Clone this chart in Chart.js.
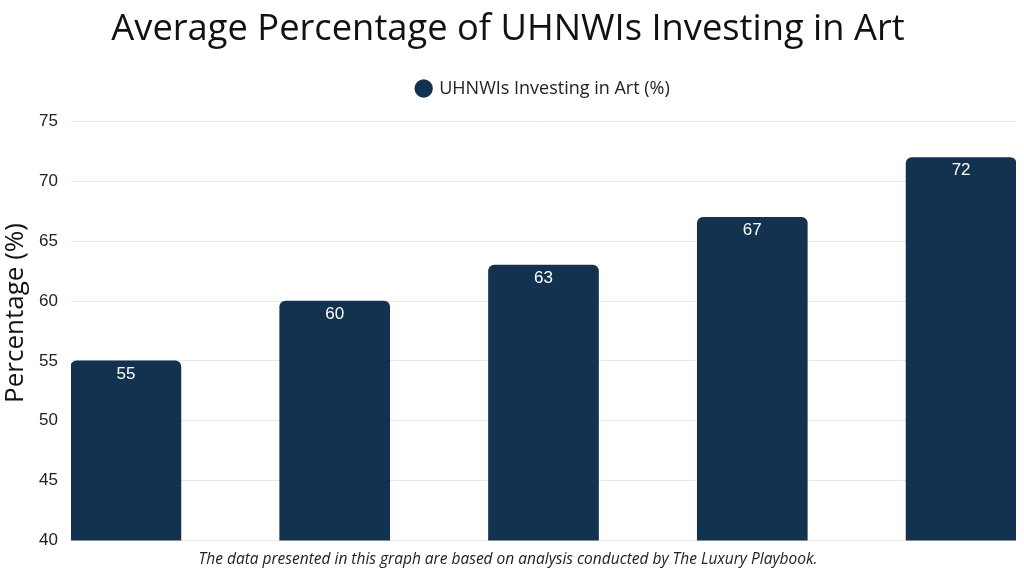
<!DOCTYPE html>
<html>
<head>
<meta charset="utf-8">
<script src="https://cdn.jsdelivr.net/npm/chart.js@4/dist/chart.umd.min.js"></script>
<style>
  html, body { margin: 0; padding: 0; background: #ffffff; }
  #wrap { width: 1024px; height: 576px; }
</style>
</head>
<body>
<div id="wrap"><canvas id="c" width="1024" height="576"></canvas></div>
<script>
const categories = ['1', '2', '3', '4', '5'];
const seriesLabel = 'UHNWIs Investing in Art (%)';
const values = [55, 60, 63, 67, 72];
const yTicks = [40, 45, 50, 55, 60, 65, 70, 75];
const titleText = 'Average Percentage of UHNWIs Investing in Art';
const captionText = 'The data presented in this graph are based on analysis conducted by The Luxury Playbook.';
const yTitle = 'Percentage (%)';

const barColor = '#12324f';

const valueLabels = {
  id: 'valueLabels',
  afterDatasetsDraw(chart) {
    const ctx = chart.ctx;
    const meta = chart.getDatasetMeta(0);
    ctx.save();
    ctx.fillStyle = '#ffffff';
    ctx.font = '17px "Liberation Sans", Arial, sans-serif';
    ctx.textAlign = 'center';
    ctx.textBaseline = 'middle';
    meta.data.forEach((el, i) => {
      ctx.fillText(String(values[i]), el.x, el.y + 13);
    });
    ctx.restore();
  }
};

const yAxisTitle = {
  id: 'yAxisTitle',
  afterDraw(chart) {
    const ctx = chart.ctx;
    const area = chart.chartArea;
    ctx.save();
    ctx.translate(16, (area.top + area.bottom) / 2 - 18);
    ctx.rotate(-Math.PI / 2);
    ctx.fillStyle = '#111111';
    ctx.font = '26px "Open Sans", sans-serif';
    ctx.textAlign = 'center';
    ctx.textBaseline = 'middle';
    ctx.fillText(yTitle, 0, 0);
    ctx.restore();
  }
};

new Chart(document.getElementById('c'), {
  type: 'bar',
  data: {
    labels: categories,
    datasets: [{
      label: seriesLabel,
      data: values.map((v, i) => ({ x: i, y: v })),
      backgroundColor: barColor,
      borderRadius: { topLeft: 6, topRight: 6, bottomLeft: 0, bottomRight: 0 },
      borderSkipped: 'bottom',
      barThickness: 110
    }]
  },
  options: {
    responsive: false,
    animation: false,
    layout: { padding: { left: 0, right: 8, top: 2, bottom: 7 } },
    plugins: {
      title: {
        display: true,
        text: titleText,
        color: '#111111',
        font: { family: '"Open Sans", sans-serif', size: 36.3, weight: '400' },
        padding: { top: 6, bottom: 8 }
      },
      subtitle: {
        display: true,
        position: 'bottom',
        text: captionText,
        color: '#222222',
        font: { family: '"Open Sans", sans-serif', size: 15.5, style: 'italic' },
        padding: { top: 2, bottom: 0 }
      },
      legend: {
        display: true,
        fullSize: false,
        labels: {
          usePointStyle: true,
          pointStyle: 'circle',
          boxWidth: 13,
          boxHeight: 13,
          color: '#222222',
          font: { family: '"Open Sans", sans-serif', size: 18 },
          padding: 20
        }
      },
      tooltip: { enabled: false }
    },
    scales: {
      x: {
        type: 'linear',
        offset: false,
        min: -0.263,
        max: 4.263,
        ticks: { display: false },
        grid: { display: false },
        border: { display: false }
      },
      xTop: {
        type: 'linear',
        position: 'top',
        min: 0,
        max: 1,
        ticks: { display: false },
        grid: { display: false },
        border: { display: false },
        afterFit(scale) { scale.height = 14; }
      },
      y: {
        min: 40,
        max: 75,
        afterBuildTicks(axis) { axis.ticks = yTicks.map(v => ({ value: v })); },
        afterFit(scale) { scale.width = 71; },
        ticks: {
          color: '#222222',
          font: { family: '"Liberation Sans", Arial, sans-serif', size: 17 },
          padding: 13
        },
        grid: { color: '#e8e8e8', drawTicks: false },
        border: { display: false },
        title: { display: false, text: yTitle }
      }
    }
  },
  plugins: [valueLabels, yAxisTitle]
});
</script>
</body>
</html>
